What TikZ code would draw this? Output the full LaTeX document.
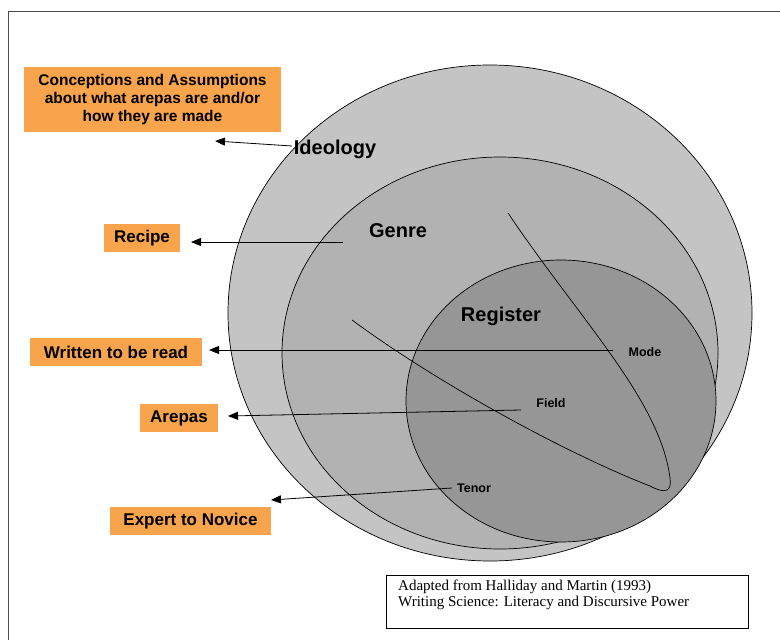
\documentclass[tikz,border=0pt]{standalone}
\usepackage{fontspec}
\setmainfont{Liberation Sans}
\newfontfamily\capfont{Liberation Serif}
\usetikzlibrary{arrows.meta}
\definecolor{boxorange}{RGB}{248,164,76}
\definecolor{ideofill}{RGB}{196,196,196}
\definecolor{genrefill}{RGB}{178,178,178}
\definecolor{regfill}{RGB}{150,150,150}
\tikzset{
  orangebox/.style={fill=boxorange, inner sep=0pt, align=center,
    font=\bfseries\fontsize{17}{20}\selectfont},
  biglabel/.style={inner sep=0pt, font=\bfseries\fontsize{20}{22}\selectfont},
  smalllabel/.style={inner sep=0pt, font=\bfseries\fontsize{12.5}{14}\selectfont},
  ellline/.style={draw=black, line width=0.7pt},
  arr/.style={-{Triangle[length=10pt,width=8pt]}, line width=0.8pt},
  capbox/.style={draw=black, line width=0.8pt, inner sep=0pt}
}
\begin{document}
\begin{tikzpicture}[x=1pt,y=-1pt]
\useasboundingbox (0,0) rectangle (780,640);
% frame
\draw[line width=1.5pt, black!70] (8.5,640) -- (8.5,11.5) -- (780,11.5);
% ellipses
\path[ellline, fill=ideofill] (490,313) ellipse [x radius=262pt, y radius=248pt];
\path[ellline, fill=genrefill] (500,353) ellipse [x radius=218pt, y radius=196pt];
\path[ellline, fill=regfill] (561,401) ellipse [x radius=155pt, y radius=141pt];
% lens
\draw[line width=0.7pt] (508,213) .. controls (580,320) and (660,400) .. (670,478)
  .. controls (672,492) and (665,494) .. (650,486)
  .. controls (570,455) and (440,385) .. (352,320);
% orange boxes
\node[orangebox, minimum width=257pt, minimum height=65pt,
  font=\bfseries\fontsize{15.5}{18}\selectfont] (concept) at (152.5,99.5)
  {Conceptions and Assumptions\\about what arepas are and/or\\how they are made};
\node[orangebox, minimum width=76pt, minimum height=28pt] (recipe) at (142,238) {Recipe};
\node[orangebox, minimum width=172pt, minimum height=28pt] (written) at (116,352) {Written to be read};
\node[orangebox, minimum width=78pt, minimum height=28pt] (arepas) at (179,418) {Arepas};
\node[orangebox, minimum width=161pt, minimum height=28pt] (expert) at (190.5,521) {Expert to Novice};
% labels
\node[biglabel] (ideology) at (335,149) {Ideology};
\node[biglabel] (genre) at (398,231) {Genre};
\node[biglabel] (register) at (501,316) {Register};
\node[smalllabel] (mode) at (645,352) {Mode};
\node[smalllabel] (field) at (551,403) {Field};
\node[smalllabel] (tenor) at (474,488) {Tenor};
% arrow coordinates
\coordinate (ideoS) at (292,146);
\coordinate (ideoE) at (215,141);
\coordinate (recS) at (343,242);
\coordinate (recE) at (191,242);
\coordinate (modeS) at (613,350);
\coordinate (modeE) at (209,350);
\coordinate (fieldS) at (521,410);
\coordinate (fieldE) at (228,416);
\coordinate (tenorS) at (452,488);
\coordinate (tenorE) at (271,500);
\draw[arr] (ideoS) -- (ideoE);
\draw[arr] (recS) -- (recE);
\draw[arr] (modeS) -- (modeE);
\draw[arr] (fieldS) -- (fieldE);
\draw[arr] (tenorS) -- (tenorE);
% caption
\node[capbox, minimum width=362pt, minimum height=53pt] (cap) at (567,601.5) {};
\node[anchor=north west, inner sep=0pt, align=left,
  font=\capfont\fontsize{15}{16}\selectfont] (captext) at (398,580)
  {Adapted from Halliday and Martin (1993)\\Writing Science: Literacy and Discursive Power};
\end{tikzpicture}
\end{document}
